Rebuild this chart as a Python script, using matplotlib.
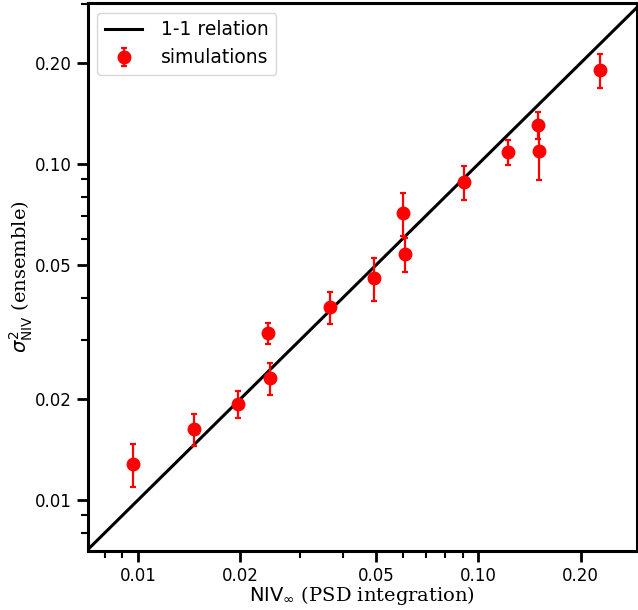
import matplotlib.pyplot as plt
from matplotlib.ticker import FixedLocator, FormatStrFormatter, NullFormatter, LogLocator

# NIV from PSD integration vs ensemble variance
niv_psd = [0.00967, 0.01459, 0.01965, 0.02405, 0.02438, 0.0366, 0.0492,
           0.06026, 0.0610, 0.0910, 0.1225, 0.1500, 0.1504, 0.228]
niv_ens = [0.0128, 0.01627, 0.0193, 0.0314, 0.02307, 0.03753, 0.04578,
           0.0715, 0.0540, 0.0884, 0.1086, 0.1306, 0.1093, 0.1905]
niv_err = [0.0019, 0.0018, 0.0018, 0.0023, 0.0025, 0.0041, 0.0067,
           0.0105, 0.0063, 0.0102, 0.0093, 0.0120, 0.0197, 0.022]
major_ticks = [0.01, 0.02, 0.05, 0.10, 0.20]

plt.rcParams['mathtext.fontset'] = 'dejavusans'

fig = plt.figure(figsize=(6.38, 6.10), dpi=100)
ax = fig.add_axes([0.138, 0.0967, 0.860, 0.898])

lims = [0.00713, 0.292]
ax.plot(lims, lims, color='black', lw=2.2, label='1-1 relation')
ax.errorbar(niv_psd, niv_ens, yerr=niv_err, fmt='o', color='red', ms=9,
            elinewidth=1.6, capsize=2, capthick=1.6, label='simulations')

ax.set_xscale('log')
ax.set_yscale('log')
ax.set_xlim(0.00713, 0.292)
ax.set_ylim(0.00705, 0.301)

for axis in (ax.xaxis, ax.yaxis):
    axis.set_major_locator(FixedLocator(major_ticks))
    axis.set_major_formatter(FormatStrFormatter('%.2f'))
    axis.set_minor_locator(LogLocator(base=10, subs=range(2, 10)))
    axis.set_minor_formatter(NullFormatter())

ax.tick_params(which='major', length=8, width=2, labelsize=12)
ax.tick_params(which='minor', length=5, width=1.5)
for s in ax.spines.values():
    s.set_linewidth(2.2)

ax.set_xlabel(r'$\rm NIV_\infty$ (PSD integration)', family='serif', fontsize=14,
              labelpad=-1)
ax.set_ylabel(r'$\sigma^2_{\rm NIV}$ (ensemble)', family='serif', fontsize=14,
              labelpad=0)

ax.legend(loc='upper left', fontsize=13.5, handletextpad=1.0)

fig.savefig('out.png', dpi=100)
